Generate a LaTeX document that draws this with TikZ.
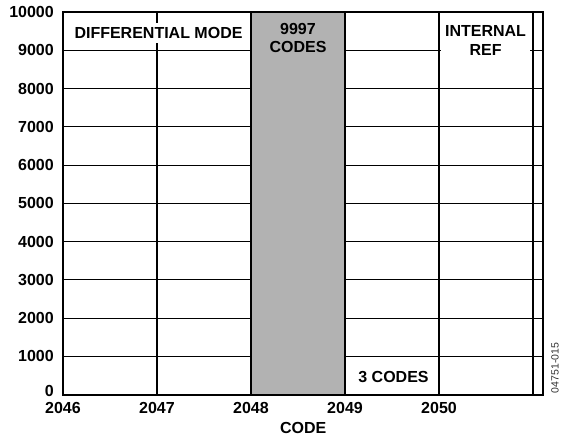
\documentclass[tikz,border=0pt]{standalone}
\usepackage{fontspec}
\setmainfont{Liberation Sans}
\usetikzlibrary{positioning,calc}

\begin{document}
\begin{tikzpicture}[x=94pt, y=0.03827pt,
    lbl/.style={font=\fontsize{16}{18.5}\selectfont\bfseries, align=center, inner sep=1pt},
    gridln/.style={line width=1.1pt},
    frame/.style={line width=1.7pt}]
    \useasboundingbox (-63pt,-47.3pt) rectangle (501pt,394.7pt);
    \def\xr{5.11}
    % 绘制网格线
    \foreach \v in {1000,2000,...,9000} {
        \draw[gridln] (0,\v) -- (\xr,\v);
    }
    \foreach \c in {1,4,5} {
        \draw[gridln] (\c,0) -- (\c,10000);
    }
    % 灰色区域(2048)
    \draw[gridln, fill=black!30] (2,0) rectangle (3,10000);
    % 外框
    \draw[frame] (0,0) rectangle (\xr,10000);
    % 纵轴标签
    \foreach \v in {1000,2000,...,10000} {
        \node[lbl, anchor=east, inner sep=0pt] (y\v) at ($(0,\v)+(-9pt,0)$) {\v};
    }
    \node[lbl, anchor=east, inner sep=0pt] (y0) at ($(0,0)+(-9pt,4pt)$) {0};
    % 横轴标签
    \foreach \c in {0,...,4} {
        \pgfmathtruncatemacro{\code}{2046+\c}
        \node[lbl, inner sep=0pt] (x\c) at ($(\c,0)+(0,-12.8pt)$) {\code};
    }
    \node[lbl, inner sep=0pt] (xtitle) at ($(\xr/2,0)+(0,-33.3pt)$) {CODE};
    % 区域说明
    \node[lbl, fill=white, inner ysep=4pt] (diff) at (1.016,9451) {DIFFERENTIAL MODE};
    \node[lbl] (wide) at (2.5,9321) {9997\\CODES};
    \node[lbl, fill=white, inner xsep=4.5pt] (iref) at (4.495,9256) {INTERNAL\\REF};
    \node[lbl] (narrow) at (3.516,470) {3 CODES};
    \node[rotate=90, font=\fontsize{10.5}{12}\selectfont, text=black!80, inner sep=0pt] (fig) at (492pt,26.7pt) {04751-015};
\end{tikzpicture}
\end{document}
